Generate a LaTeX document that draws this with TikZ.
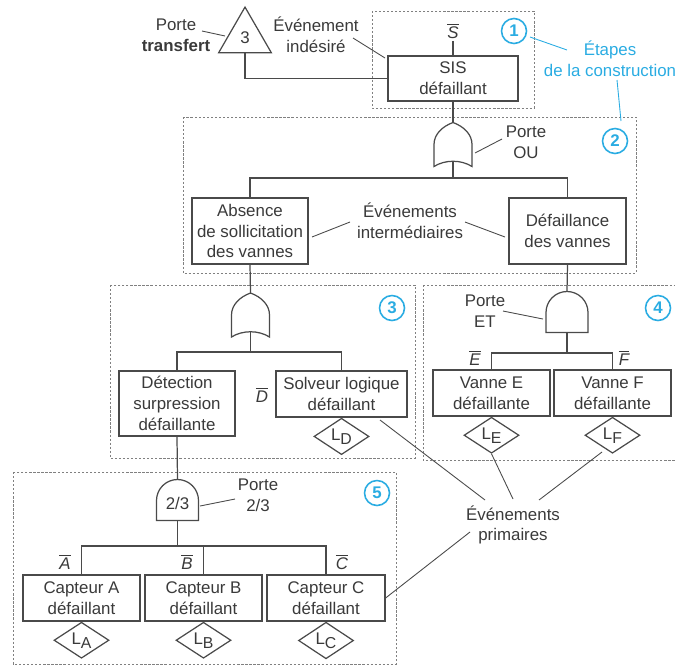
\documentclass[tikz,border=0pt]{standalone}
\usepackage{fontspec}
\setmainfont{Liberation Sans}
\usepackage{tikz}
\usetikzlibrary{positioning,shapes.geometric}
\definecolor{lineColor}{HTML}{4A4A4A}
\definecolor{textColor}{HTML}{3A3A3A}
\definecolor{stepCyan}{HTML}{2AACE2}
\newcommand{\lsub}[1]{L\raisebox{-0.45ex}{\small #1}}
\newcommand{\barlab}[1]{$\overline{\mbox{\itshape #1}}$}

\tikzset{
  evtbox/.style={draw=lineColor, line width=0.7pt, align=center, inner sep=0pt, text=textColor},
  link/.style={draw=lineColor, line width=0.7pt},
  renvoi/.style={draw=lineColor, line width=0.5pt},
  zone/.style={draw=gray, line width=0.5pt, dash pattern=on 1.3pt off 1pt},
  legend/.style={align=center, text=textColor, inner sep=1pt},
  feuille/.style={diamond, draw=lineColor, line width=0.7pt, minimum width=1.1cm, minimum height=0.72cm, inner sep=0pt, text=textColor},
  etape/.style={circle, draw=stepCyan, line width=0.9pt, minimum size=0.5cm, inner sep=0pt, text=stepCyan, font=\fontsize{9.6}{11.8}\selectfont\bfseries},
  porteou/.pic={
    \draw[link] (0,-22) .. controls (-11,-18) and (-19,-10) .. (-19,0) -- (-19,22)
      .. controls (-8,15) and (8,15) .. (19,22) -- (19,0) .. controls (19,-10) and (11,-18) .. (0,-22) -- cycle;
    \coordinate (-haut) at (0,-22);
    \coordinate (-bas) at (0,16.75);
  },
  porteet/.pic={
    \draw[link] (-21,20.5) -- (-21,0.5) .. controls (-21,-11.1) and (-11.6,-20.5) .. (0,-20.5)
      .. controls (11.6,-20.5) and (21,-11.1) .. (21,0.5) -- (21,20.5) -- cycle;
    \coordinate (-haut) at (0,-20.5);
    \coordinate (-bas) at (0,20.5);
  },
}

\begin{document}
\begin{tikzpicture}[x=0.02cm, y=-0.02cm, font=\fontsize{9.6}{11.8}\selectfont]
\useasboundingbox (0,0) rectangle (675,666);

% zones de construction
\draw[zone] (372,11) rectangle (534,108);
\draw[zone] (183,117) rectangle (636,273);
\draw[zone] (110,285) rectangle (415,458);
\draw[zone] (423,285) -- (690,285) (423,285) -- (423,460) -- (690,460);
\draw[zone] (13,472) rectangle (396,664);

% etape 1 : evenement indesire
\node[evtbox, minimum width=2.6cm, minimum height=0.9cm] (sis) at (453,78.5) {SIS\\d\'efaillant};
\node[legend] (sbar) at (453,31) {\barlab{S}};
\node[regular polygon, regular polygon sides=3, draw=lineColor, line width=0.7pt, minimum size=1.22cm, inner sep=0pt, text=textColor] (tr3) at (245,37.6) {3};
\node[legend] (ptransfert) at (176,35) {Porte\\\textbf{transfert}};
\node[legend] (indesire) at (316,35) {\'Ev\'enement\\ind\'esir\'e};

\draw[link] (sbar.south) -- (sis.north);
\draw[link] (tr3.south) |- (sis.west);
\draw[renvoi] (202,31) -- (225,36);
\draw[renvoi] (353,38) -- (385,58);

% etapes (legende bleue)
\node[etape] (c1) at (514,31) {1};
\node[etape] (c2) at (615,141) {2};
\node[etape] (c3) at (392,308) {3};
\node[etape] (c4) at (658,308) {4};
\node[etape] (c5) at (377,493) {5};
\node[align=center, text=stepCyan, inner sep=1pt] (etapes) at (610,59) {\'Etapes\\de la construction};
\draw[stepCyan, line width=0.5pt] (530,37) -- (567,50);
\draw[stepCyan, line width=0.5pt] (617,80) -- (621,121);

% etape 2 : porte OU
\pic (ou1) at (453,144.5) {porteou};
\node[legend] (pou) at (526,142) {Porte\\OU};
\node[evtbox, minimum width=2.32cm, minimum height=1.32cm] (absence) at (250,231) {Absence\\de sollicitation\\des vannes};
\node[evtbox, minimum width=2.34cm, minimum height=1.32cm] (defvannes) at (567.5,231) {D\'efaillance\\des vannes};
\node[legend] (intermed) at (410,221) {\'Ev\'enements\\interm\'ediaires};

\draw[link] (sis.south) -- (ou1-haut);
\draw[link] (ou1-bas) -- (453,178) coordinate (bus1) -| (absence.north);
\draw[link] (bus1) -| (defvannes.north);
\draw[renvoi] (475,153) -- (502,139);
\draw[renvoi] (312,237) -- (350,222);
\draw[renvoi] (465,222) -- (505,237);

% etape 3 : absence de sollicitation
\pic (ou2) at (250.5,315) {porteou};
\node[evtbox, minimum width=2.32cm, minimum height=1.3cm] (detection) at (177,403.5) {D\'etection\\surpression\\d\'efaillante};
\node[evtbox, minimum width=2.62cm, minimum height=0.92cm] (solveur) at (341.5,394) {Solveur logique\\d\'efaillant};
\node[legend] (dbar) at (262,395) {\barlab{D}};
\node[feuille, below=0pt of solveur] (ld) {\lsub{D}};

\draw[link] (absence.south) -- (ou2-haut);
\draw[link] (ou2-bas) -- (250.5,352) coordinate (bus2) -| (detection.north);
\draw[link] (bus2) -| (solveur.north);

% etape 4 : porte ET
\pic (et) at (567,312) {porteet};
\node[legend] (pet) at (485,311) {Porte\\ET};
\node[evtbox, minimum width=2.34cm, minimum height=0.92cm] (vanneE) at (491.5,393) {Vanne E\\d\'efaillante};
\node[evtbox, minimum width=2.34cm, minimum height=0.92cm] (vanneF) at (612.5,393) {Vanne F\\d\'efaillante};
\node[legend] (ebar) at (475,358) {\barlab{E}};
\node[legend] (fbar) at (624,358) {\barlab{F}};
\node[feuille, below=0pt of vanneE] (le) {\lsub{E}};
\node[feuille, below=0pt of vanneF] (lf) {\lsub{F}};

\draw[link] (defvannes.south) -- (et-haut);
\draw[link] (et-bas) -- (567,353) coordinate (bus4) -| (vanneE.north);
\draw[link] (bus4) -| (vanneF.north);
\draw[renvoi] (503,311) -- (543,319);

% etape 5 : porte 2/3
\pic (vote) at (177.5,500) {porteet};
\node[text=textColor, inner sep=0pt] (votetxt) at (177.5,503) {2/3};
\node[legend] (pvote) at (258,495) {Porte\\2/3};
\node[evtbox, minimum width=2.34cm, minimum height=0.92cm] (captA) at (81.5,598) {Capteur A\\d\'efaillant};
\node[evtbox, minimum width=2.34cm, minimum height=0.92cm] (captB) at (203.5,598) {Capteur B\\d\'efaillant};
\node[evtbox, minimum width=2.36cm, minimum height=0.92cm] (captC) at (326,598) {Capteur C\\d\'efaillant};
\node[legend] (abar) at (65,562) {\barlab{A}};
\node[legend] (bbar) at (187,562) {\barlab{B}};
\node[legend] (cbar) at (342,562) {\barlab{C}};
\node[feuille, below=0pt of captA] (la) {\lsub{A}};
\node[feuille, below=0pt of captB] (lb) {\lsub{B}};
\node[feuille, below=0pt of captC] (lc) {\lsub{C}};

\draw[link] (detection.south) -- (vote-haut);
\draw[link] (vote-bas) -- (177.5,546) coordinate (bus5) -| (captA.north);
\draw[link] (bus5) -| (captC.north);
\draw[link] (captB.north) -- (captB.north |- bus5);
\draw[renvoi] (200,506) -- (235,499);

% evenements primaires
\node[legend] (primaires) at (513,525) {\'Ev\'enements\\primaires};
\draw[renvoi] (380,420) -- (485,500);
\draw[renvoi] (le.south) -- (513,499);
\draw[renvoi] (602,452) -- (539,500);
\draw[renvoi] (470,532) -- (captC.east);
\end{tikzpicture}
\end{document}
